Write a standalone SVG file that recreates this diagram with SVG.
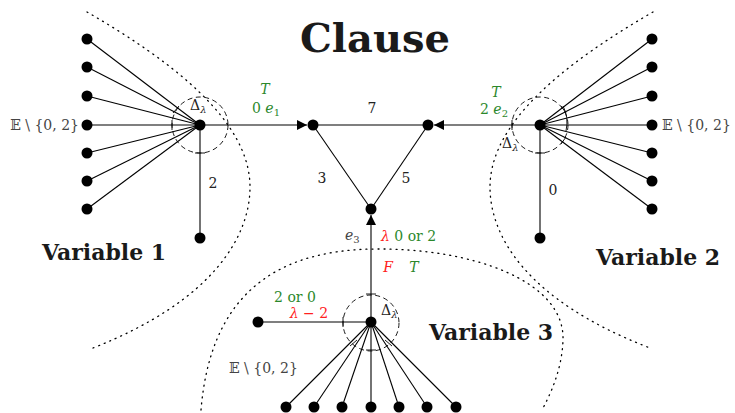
<svg xmlns="http://www.w3.org/2000/svg" width="735" height="413" viewBox="0 0 735 413">
<defs>
<style>
.e{stroke:#000;stroke-width:1.1;fill:none}
.d{fill:#000}
.dot{stroke:#000;stroke-width:1.3;fill:none;stroke-dasharray:1 5;stroke-linecap:round}
.dash{stroke:#000;stroke-width:0.9;fill:none;stroke-dasharray:5 3.5}
.tk{stroke:#000;stroke-width:0.9;fill:none}
.t{font-family:"DejaVu Serif","Liberation Serif",serif;font-size:14px;fill:#222}
.i{font-style:italic}
.g{fill:#2b882b}
.r{fill:#ff2020}
.gr{fill:#444}
.b{font-family:"DejaVu Serif","Liberation Serif",serif;font-weight:bold;fill:#1a1a1a}
</style>
<marker id="ar" viewBox="0 0 10 10" refX="10" refY="5" markerWidth="10" markerHeight="10" markerUnits="userSpaceOnUse" orient="auto">
<path d="M0,0 L10,5 L0,10 Z" fill="#000"/>
</marker>
</defs>
<rect width="735" height="413" fill="#fff"/>

<g id="regions">
<path class="dot" d="M87 12 C170 60 250 120 250 187 C250 235 215 300 93 348"/>
<path class="dot" d="M653 12 C570 60 490 120 490 187 C490 235 525 300 650 348"/>
<path class="dot" d="M201 410 C210 300 270 250 375 249 C470 248 565 280 563 340 C562 370 550 395 542 410"/>
</g>

<g id="connectors">
<line class="e" x1="200" y1="125" x2="307" y2="125" marker-end="url(#ar)"/>
<line class="e" x1="540" y1="125" x2="434" y2="125" marker-end="url(#ar)"/>
<line class="e" x1="371" y1="322" x2="371" y2="215" marker-end="url(#ar)"/>
<line class="e" x1="313" y1="125" x2="428" y2="125"/>
<line class="e" x1="313" y1="125" x2="371" y2="209"/>
<line class="e" x1="428" y1="125" x2="371" y2="209"/>
<g class="e">
<line x1="200" y1="125" x2="87" y2="39"/>
<line x1="200" y1="125" x2="87" y2="67"/>
<line x1="200" y1="125" x2="87" y2="96"/>
<line x1="200" y1="125" x2="87" y2="125"/>
<line x1="200" y1="125" x2="87" y2="153"/>
<line x1="200" y1="125" x2="87" y2="181"/>
<line x1="200" y1="125" x2="87" y2="209"/>
<line x1="200" y1="125" x2="200" y2="238"/>
<line x1="540" y1="125" x2="652" y2="39"/>
<line x1="540" y1="125" x2="652" y2="67"/>
<line x1="540" y1="125" x2="652" y2="96"/>
<line x1="540" y1="125" x2="652" y2="125"/>
<line x1="540" y1="125" x2="652" y2="153"/>
<line x1="540" y1="125" x2="652" y2="181"/>
<line x1="540" y1="125" x2="652" y2="209"/>
<line x1="540" y1="125" x2="540" y2="238"/>
<line x1="371" y1="322" x2="258" y2="322"/>
<line x1="371" y1="322" x2="286" y2="407"/>
<line x1="371" y1="322" x2="314" y2="407"/>
<line x1="371" y1="322" x2="342" y2="407"/>
<line x1="371" y1="322" x2="371" y2="407"/>
<line x1="371" y1="322" x2="399" y2="407"/>
<line x1="371" y1="322" x2="427" y2="407"/>
<line x1="371" y1="322" x2="456" y2="407"/>
</g>
</g>

<g id="angles">
<circle class="dash" cx="200" cy="125" r="28"/>
<circle class="dash" cx="540" cy="125" r="28"/>
<circle class="dash" cx="371" cy="323" r="28"/>
<g class="tk">
<line x1="172" y1="120" x2="172" y2="130"/>
<line x1="195" y1="153" x2="205" y2="153"/>
<line x1="173" y1="113" x2="179" y2="106"/>
<line x1="512" y1="120" x2="512" y2="130"/>
<line x1="535" y1="153" x2="545" y2="153"/>
<path d="M563 106 Q569 117 566 131"/>
<line x1="561" y1="106" x2="566" y2="113"/>
<line x1="561" y1="144" x2="566" y2="137"/>
<line x1="366" y1="294" x2="376" y2="294"/>
<line x1="343" y1="317" x2="343" y2="327"/>
<line x1="366" y1="350" x2="376" y2="350"/>
<line x1="350" y1="346" x2="357" y2="340"/>
<line x1="392" y1="346" x2="385" y2="340"/>
</g>
</g>

<g id="var1">
<circle class="d" cx="200" cy="125" r="5.5"/>
<circle class="d" cx="87" cy="39" r="5.5"/>
<circle class="d" cx="87" cy="67" r="5.5"/>
<circle class="d" cx="87" cy="96" r="5.5"/>
<circle class="d" cx="87" cy="125" r="5.5"/>
<circle class="d" cx="87" cy="153" r="5.5"/>
<circle class="d" cx="87" cy="181" r="5.5"/>
<circle class="d" cx="87" cy="209" r="5.5"/>
<circle class="d" cx="200" cy="238" r="5.5"/>
<text class="b" x="104" y="260" font-size="22" text-anchor="middle">Variable 1</text>
<text class="t gr" x="79" y="130" text-anchor="end">𝔼 \ {0, 2}</text>
<text class="t" x="213" y="188" text-anchor="middle">2</text>
<text class="t" x="190" y="110">Δ<tspan class="i" font-size="10" dy="3">λ</tspan></text>
</g>

<g id="var2">
<circle class="d" cx="540" cy="125" r="5.5"/>
<circle class="d" cx="652" cy="39" r="5.5"/>
<circle class="d" cx="652" cy="67" r="5.5"/>
<circle class="d" cx="652" cy="96" r="5.5"/>
<circle class="d" cx="652" cy="125" r="5.5"/>
<circle class="d" cx="652" cy="153" r="5.5"/>
<circle class="d" cx="652" cy="181" r="5.5"/>
<circle class="d" cx="652" cy="209" r="5.5"/>
<circle class="d" cx="540" cy="238" r="5.5"/>
<text class="b" x="658" y="265" font-size="22" text-anchor="middle">Variable 2</text>
<text class="t gr" x="662" y="130">𝔼 \ {0, 2}</text>
<text class="t" x="553" y="195" text-anchor="middle">0</text>
<text class="t" x="502" y="148">Δ<tspan class="i" font-size="10" dy="3">λ</tspan></text>
</g>

<g id="var3">
<circle class="d" cx="371" cy="322" r="5.5"/>
<circle class="d" cx="258" cy="322" r="5.5"/>
<circle class="d" cx="286" cy="407" r="5.5"/>
<circle class="d" cx="314" cy="407" r="5.5"/>
<circle class="d" cx="342" cy="407" r="5.5"/>
<circle class="d" cx="371" cy="407" r="5.5"/>
<circle class="d" cx="399" cy="407" r="5.5"/>
<circle class="d" cx="427" cy="407" r="5.5"/>
<circle class="d" cx="456" cy="407" r="5.5"/>
<text class="b" x="491" y="340" font-size="22" text-anchor="middle">Variable 3</text>
<text class="t gr" x="229" y="373">𝔼 \ {0, 2}</text>
<text class="t" x="381" y="315">Δ<tspan class="i" font-size="10" dy="3">λ</tspan></text>
<text class="t g" x="295" y="302" text-anchor="middle">2 or 0</text>
<text class="t r" x="309" y="318" text-anchor="middle"><tspan class="i">λ</tspan> − 2</text>
</g>

<g id="clause">
<circle class="d" cx="313" cy="125" r="5.5"/>
<circle class="d" cx="428" cy="125" r="5.5"/>
<circle class="d" cx="371" cy="209" r="5.5"/>
<text class="b" x="375" y="52" font-size="40" text-anchor="middle">Clause</text>
<text class="t" x="372" y="113" text-anchor="middle">7</text>
<text class="t" x="322" y="183" text-anchor="middle">3</text>
<text class="t" x="406" y="183" text-anchor="middle">5</text>
</g>

<g id="edge-labels">
<text class="t g i" x="265" y="94" text-anchor="middle">T</text>
<text class="t g" x="252" y="113">0 <tspan class="i">e</tspan><tspan font-size="10" dy="3">1</tspan></text>
<text class="t g i" x="496" y="97" text-anchor="middle">T</text>
<text class="t g" x="480" y="114">2 <tspan class="i">e</tspan><tspan font-size="10" dy="3">2</tspan></text>
<text class="t gr" x="345" y="240"><tspan class="i">e</tspan><tspan font-size="10" dy="3">3</tspan></text>
<text class="t" x="381" y="241"><tspan class="r i">λ</tspan><tspan class="g"> 0 or 2</tspan></text>
<text class="t r i" x="388" y="272" text-anchor="middle">F</text>
<text class="t g i" x="414" y="272" text-anchor="middle">T</text>
</g>
</svg>
